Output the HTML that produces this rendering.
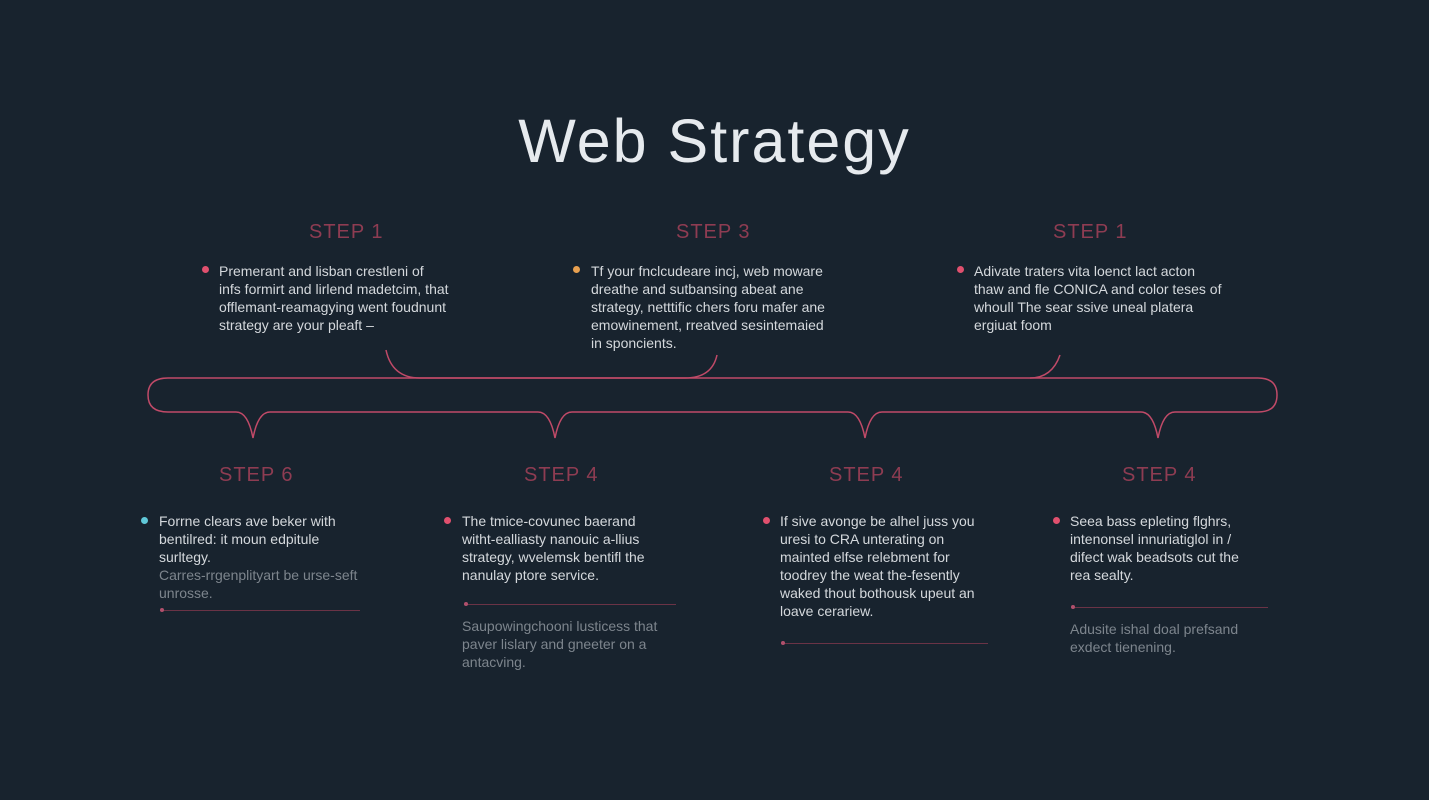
<!DOCTYPE html>
<html><head><meta charset="utf-8"><style>
html,body{margin:0;padding:0}
body{width:1429px;height:800px;background:#18232e;position:relative;overflow:hidden;font-family:"Liberation Sans",sans-serif}
.t{position:absolute;color:#d4d8dc;font-size:14px;line-height:18px;white-space:nowrap}
.d{color:#7d858d}
.s{position:absolute;color:#8e3c52;font-size:20px;letter-spacing:1px}
.dot{position:absolute;width:7px;height:7px;border-radius:50%}
.ln{position:absolute;height:1px;background:#6a3346}
.ln:before{content:"";position:absolute;left:0;top:-2px;width:4px;height:4px;border-radius:50%;background:#b0506c}
</style></head><body>
<div style="position:absolute;left:0;width:1429px;top:106px;text-align:center;color:#e6eaee;font-size:61px;font-weight:300;letter-spacing:2px">Web Strategy</div>

<div class="s" style="left:309px;top:221px">STEP 1</div>
<div class="s" style="left:676px;top:221px">STEP 3</div>
<div class="s" style="left:1053px;top:221px">STEP 1</div>

<div class="dot" style="left:202px;top:266px;background:#e0506e"></div>
<div class="t" style="left:219px;top:262px">Premerant and lisban crestleni of<br>infs formirt and lirlend madetcim, that<br>offlemant-reamagying went foudnunt<br>strategy are your pleaft –</div>
<div class="dot" style="left:573px;top:266px;background:#e8a050"></div>
<div class="t" style="left:591px;top:262px">Tf your fnclcudeare incj, web moware<br>dreathe and sutbansing abeat ane<br>strategy, netttific chers foru mafer ane<br>emowinement, rreatved sesintemaied<br>in sponcients.</div>
<div class="dot" style="left:957px;top:266px;background:#e0506e"></div>
<div class="t" style="left:974px;top:262px">Adivate traters vita loenct lact acton<br>thaw and fle CONICA and color teses of<br>whoull The sear ssive uneal platera<br>ergiuat foom</div>

<svg style="position:absolute;left:0;top:0" width="1429" height="800" fill="none" stroke="#c04a68" stroke-width="1.5">
<path d="M386 350 Q392 378 420 378 L685 378 Q712 378 717 355"/>
<path d="M1060 355 Q1052 378 1030 378"/>
<path d="M168 378 L1258 378 Q1277 378 1277 395 Q1277 412 1258 412 L1175 412 Q1163 412 1158 438 Q1153 412 1141 412 L882 412 Q870 412 865 438 Q860 412 848 412 L572 412 Q560 412 555 438 Q550 412 538 412 L270 412 Q258 412 253 438 Q248 412 236 412 L168 412 Q148 412 148 395 Q148 378 168 378 Z"/>
</svg>

<div class="s" style="left:219px;top:464px">STEP 6</div>
<div class="s" style="left:524px;top:464px">STEP 4</div>
<div class="s" style="left:829px;top:464px">STEP 4</div>
<div class="s" style="left:1122px;top:464px">STEP 4</div>

<div class="dot" style="left:141px;top:517px;background:#60c8d8"></div>
<div class="t" style="left:159px;top:512px">Forrne clears ave beker with<br>bentilred: it moun edpitule<br>surltegy.<br><span class="d">Carres-rrgenplityart be urse-seft<br>unrosse.</span></div>
<div class="ln" style="left:160px;top:610px;width:200px"></div>

<div class="dot" style="left:444px;top:517px;background:#e0506e"></div>
<div class="t" style="left:462px;top:512px">The tmice-covunec baerand<br>witht-ealliasty nanouic a-llius<br>strategy, wvelemsk bentifl the<br>nanulay ptore service.</div>
<div class="ln" style="left:464px;top:604px;width:212px"></div>
<div class="t d" style="left:462px;top:617px">Saupowingchooni lusticess that<br>paver lislary and gneeter on a<br>antacving.</div>

<div class="dot" style="left:763px;top:517px;background:#e0506e"></div>
<div class="t" style="left:780px;top:512px">If sive avonge be alhel juss you<br>uresi to CRA unterating on<br>mainted elfse relebment for<br>toodrey the weat the-fesently<br>waked thout bothousk upeut an<br>loave cerariew.</div>
<div class="ln" style="left:781px;top:643px;width:207px"></div>

<div class="dot" style="left:1053px;top:517px;background:#e0506e"></div>
<div class="t" style="left:1070px;top:512px">Seea bass epleting flghrs,<br>intenonsel innuriatiglol in /<br>difect wak beadsots cut the<br>rea sealty.</div>
<div class="ln" style="left:1071px;top:607px;width:197px"></div>
<div class="t d" style="left:1070px;top:620px">Adusite ishal doal prefsand<br>exdect tienening.</div>
</body></html>
